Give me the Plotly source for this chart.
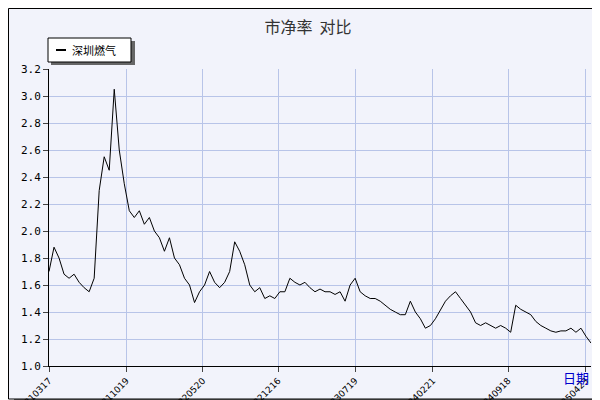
import plotly.graph_objects as go
import pandas as pd

values = [1.70,1.88,1.80,1.68,1.65,1.68,1.62,1.58,1.55,1.65,2.30,2.55,2.45,3.05,2.60,2.35,2.15,2.10,2.15,2.05,
          2.10,2.00,1.95,1.85,1.95,1.80,1.75,1.65,1.60,1.47,1.55,1.60,1.70,1.62,1.58,1.62,1.70,1.92,1.85,1.75,
          1.60,1.55,1.58,1.50,1.52,1.50,1.55,1.55,1.65,1.62,1.60,1.62,1.58,1.55,1.57,1.55,1.55,1.53,1.55,1.48,
          1.60,1.65,1.55,1.52,1.50,1.50,1.48,1.45,1.42,1.40,1.38,1.38,1.48,1.40,1.35,1.28,1.30,1.35,1.42,1.48,
          1.52,1.55,1.50,1.45,1.40,1.32,1.30,1.32,1.30,1.28,1.30,1.28,1.25,1.45,1.42,1.40,1.38,1.33,1.30,1.28,
          1.26,1.25,1.26,1.26,1.28,1.25,1.28,1.22,1.17]
dates = pd.date_range("2021-03-17", periods=len(values), freq="14D")
tick_dates = ["2021-03-17","2021-10-19","2022-05-20","2022-12-16","2023-07-19","2024-02-21","2024-09-18","2025-04-23"]
tick_text = [d.replace("-", "") for d in tick_dates]
y_ticks = [1.0 + 0.2*i for i in range(12)]

fig = go.Figure(go.Scatter(x=dates, y=values, mode="lines", line=dict(color="black", width=1), name="深圳燃气"))

def px(x): return (x-41)/542
def py(y): return (358-y)/297

shapes = [
    dict(type="rect", xref="paper", yref="paper", x0=px(6), x1=px(598), y0=py(397), y1=py(6),
         fillcolor="#666666", line_width=0, layer="below"),
    dict(type="rect", xref="paper", yref="paper", x0=px(0.5), x1=px(592), y0=py(391), y1=py(0.5),
         fillcolor="#f2f3fb", line=dict(color="black", width=1), layer="below"),
    dict(type="rect", xref="paper", yref="paper", x0=px(43), x1=px(127), y0=py(57), y1=py(33),
         fillcolor="#666666", line_width=0, layer="below"),
    dict(type="rect", xref="paper", yref="paper", x0=px(40), x1=px(123), y0=py(54), y1=py(30),
         fillcolor="white", line=dict(color="black", width=1), layer="below"),
    dict(type="line", xref="paper", yref="paper", x0=px(48), x1=px(58), y0=py(42), y1=py(42),
         line=dict(color="black", width=2)),
]
fig.update_layout(
    width=600, height=400, margin=dict(l=41, r=17, t=61, b=42, autoexpand=False),
    paper_bgcolor="white", plot_bgcolor="#dce2f6", shapes=shapes,
    font=dict(family="Noto Sans CJK SC", size=11, color="black"),
    title=dict(text="市净率  对比", x=0.5, y=0.965, xanchor="center", font=dict(size=16, color="#333333")),
    showlegend=False,
    xaxis=dict(range=[dates[0], pd.Timestamp("2025-05-07")], tickvals=tick_dates, ticktext=tick_text,
               tickangle=-45, gridcolor="#b8c4e8", showline=True, linecolor="black", ticks="outside",
               ticklen=5, tickfont=dict(family="DejaVu Sans", size=9), zeroline=False, automargin=False),
    yaxis=dict(range=[1.0, 3.2], tickvals=y_ticks, ticktext=[f"{v:.1f}" for v in y_ticks],
               gridcolor="#b8c4e8", showline=True, linecolor="black", ticks="outside", ticklen=5,
               tickfont=dict(family="DejaVu Sans Mono", size=11), zeroline=False, automargin=False),
    annotations=[
        dict(text="日期", xref="paper", yref="paper", x=1.0, y=py(381), showarrow=False,
             xanchor="right", font=dict(color="#0000cc", size=13)),
        dict(text="深圳燃气", xref="paper", yref="paper", x=px(62), y=py(42), showarrow=False,
             xanchor="left", yanchor="middle", font=dict(size=11)),
    ],
)
fig.write_html("out.html")
